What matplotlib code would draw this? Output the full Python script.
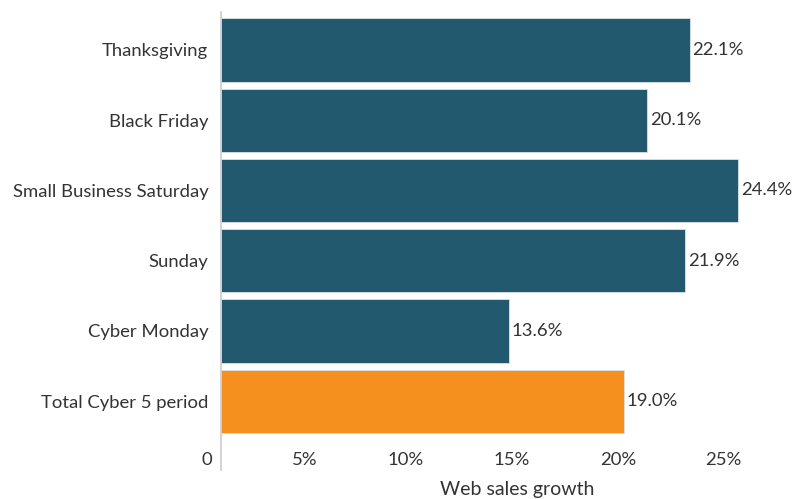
import matplotlib.pyplot as plt
import matplotlib.transforms as mtransforms

categories = ['Thanksgiving', 'Black Friday', 'Small Business Saturday',
              'Sunday', 'Cyber Monday', 'Total Cyber 5 period']
growth = [22.1, 20.1, 24.4, 21.9, 13.6, 19.0]
colors = ['#23596e'] * 5 + ['#f5901e']
xticks = [0, 5, 10, 15, 20, 25]
xtick_labels = ['0', '5%', '10%', '15%', '20%', '25%']

plt.rcParams['font.family'] = ['Lato', 'DejaVu Sans']
text_color = '#333333'
fs = 13.3

fig = plt.figure(figsize=(8.03, 4.99), dpi=100)
ax = fig.add_axes([221 / 803, 1 - 470 / 499, 592 / 803, 458 / 499])

y = list(range(len(categories)))
ax.barh(y, growth, height=0.9, color=colors, edgecolor='#d8e2e6', linewidth=0.6)

for yi, v in zip(y, growth):
    ax.text(v + 0.12, yi, f'{v:.1f}%', va='center', ha='left',
            fontsize=fs, color=text_color)

ax.set_ylim(5.98, -0.54)
ax.set_xlim(0, 592 / 21.2)
ax.set_yticks(y)
ax.set_yticklabels(categories, fontsize=fs, color=text_color)
ax.set_xticks(xticks)
ax.set_xticklabels([])

# x tick labels sit inside the axes, right-aligned a little left of each tick
offset = mtransforms.ScaledTranslation(-9 / 100, 0, fig.dpi_scale_trans)
trans = ax.get_xaxis_transform() + offset
for t, lab in zip(xticks, xtick_labels):
    ax.text(t, 10 / 458, lab, transform=trans, ha='right', va='center',
            fontsize=fs, color=text_color)

ax.tick_params(axis='x', length=0)
ax.tick_params(axis='y', length=0, pad=9)

for s in ['top', 'right', 'bottom']:
    ax.spines[s].set_visible(False)
ax.spines['left'].set_color('#cccccc')
ax.spines['left'].set_linewidth(1.2)

ax.set_xlabel('Web sales growth', fontsize=14, color=text_color)
ax.xaxis.set_label_coords((517 - 221) / 592, -11 / 458)

fig.savefig('out.png', dpi=100)
